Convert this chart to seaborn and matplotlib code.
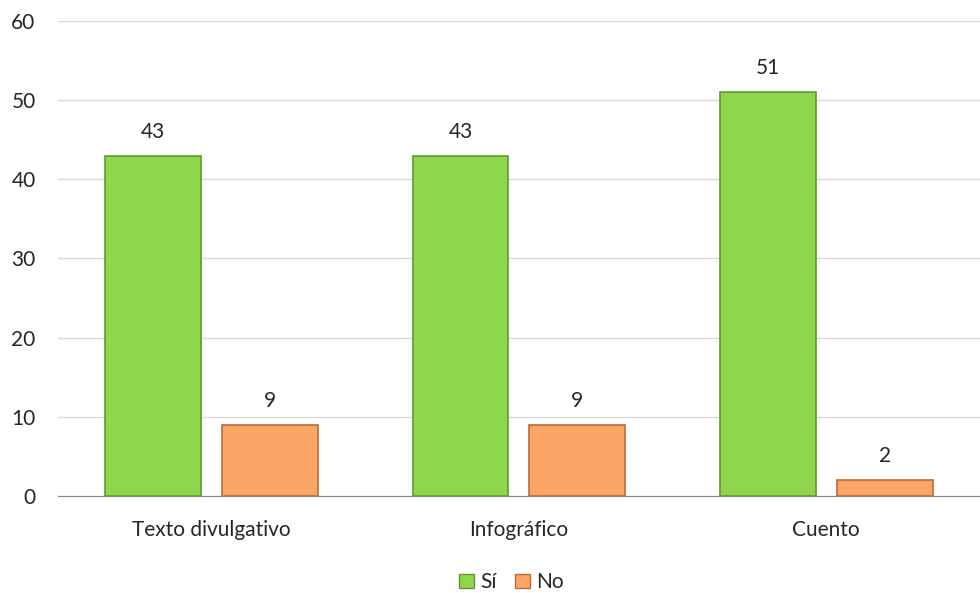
import pandas as pd
import matplotlib.pyplot as plt
import seaborn as sns
from matplotlib.patches import Patch

categorias = ['Texto divulgativo', 'Infográfico', 'Cuento']
si = [43, 43, 51]
no = [9, 9, 2]

df = pd.DataFrame({'cat': categorias * 2,
                   'resp': ['Sí'] * 3 + ['No'] * 3,
                   'valor': si + no})

sns.set_style('white')
plt.rcParams['font.family'] = ['Lato', 'DejaVu Sans']

fig = plt.figure(figsize=(9.8, 5.93), dpi=100)
ax = fig.add_axes([0.059, 0.1636, 0.941, 0.801])

colores = {'Sí': '#8fd64d', 'No': '#faa566'}
bordes = {'Sí': '#5f9a2e', 'No': '#b86c3c'}

sns.barplot(data=df, x='cat', y='valor', hue='resp', palette=colores,
            saturation=1, width=0.76, gap=0.18, ax=ax, legend=False, zorder=3)

for cont, key in zip(ax.containers, ['Sí', 'No']):
    for b in cont:
        b.set_edgecolor(bordes[key])
        b.set_linewidth(1.2)
    ax.bar_label(cont, fontsize=15, padding=10)

ax.set_ylim(0, 60)
ax.set_yticks(range(0, 61, 10))
ax.grid(axis='y', color='#d9d9d9', lw=1, zorder=0)
ax.set_xlabel('')
ax.set_ylabel('')
for s in ['top', 'right', 'left']:
    ax.spines[s].set_visible(False)
ax.spines['bottom'].set_color('#868686')
ax.tick_params(axis='both', length=0, labelsize=15)
ax.tick_params(axis='x', pad=17)
ax.tick_params(axis='y', pad=16)

handles = [Patch(facecolor=colores['Sí'], edgecolor=bordes['Sí'], label='Sí'),
           Patch(facecolor=colores['No'], edgecolor=bordes['No'], label='No')]
fig.legend(handles=handles, loc='center', bbox_to_anchor=(0.522, 0.018),
           ncol=2, frameon=False, fontsize=15, handlelength=0.7,
           handleheight=0.7, handletextpad=0.3, columnspacing=0.9)

fig.savefig('out.png', dpi=100)
